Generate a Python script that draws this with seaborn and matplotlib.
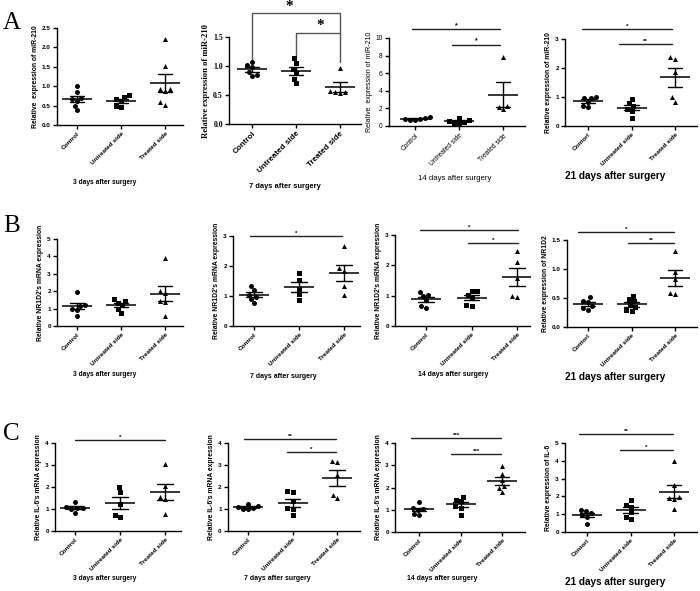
import numpy as np
import pandas as pd
import matplotlib
matplotlib.use("Agg")
import matplotlib.pyplot as plt
import seaborn as sns

sns.set_style("ticks")
plt.rcParams['font.family'] = ['Liberation Sans', 'DejaVu Sans']
for k in ['text.color', 'axes.labelcolor', 'xtick.color', 'ytick.color', 'axes.edgecolor']:
    plt.rcParams[k] = 'black'

groups = ["Control", "Untreated side", "Treated side"]
group_labels = ["Control", "Untreated side", "Treated side"]
group_labels_typo = ["Contorl", "Untreated side", "Treated side"]

# ---- Row A: miR-210 ----
a1_control = [1.00, 0.86, 0.70, 0.66, 0.62, 0.50, 0.38]
a1_untreated = [0.77, 0.72, 0.68, 0.62, 0.50, 0.47]
a1_treated = [2.22, 1.53, 0.93, 0.92, 0.88, 0.58, 0.52]

a2_control = [1.07, 1.02, 0.98, 0.90, 0.84, 0.83]
a2_untreated = [1.14, 1.06, 0.95, 0.88, 0.78, 0.70]
a2_treated = [0.97, 0.57, 0.55, 0.55, 0.54]

a3_control = [1.00, 0.95, 0.85, 0.75, 0.70, 0.70]
a3_untreated = [0.90, 0.70, 0.60, 0.40, 0.30, 0.30]
a3_treated = [7.80, 2.30, 2.20, 1.90]

a4_control = [1.01, 0.98, 0.95, 0.84, 0.68, 0.66]
a4_untreated = [0.94, 0.78, 0.68, 0.58, 0.52, 0.28]
a4_treated = [2.37, 2.30, 1.87, 0.99, 0.84]

# ---- Row B: NR1D2 ----
b1_control = [1.97, 1.22, 1.15, 1.00, 0.92, 0.60]
b1_untreated = [1.55, 1.45, 1.35, 1.20, 1.00, 0.75]
b1_treated = [3.89, 2.00, 1.90, 1.42, 1.38, 0.60]

b2_control = [1.33, 1.20, 1.05, 0.97, 0.90, 0.76]
b2_untreated = [1.77, 1.55, 1.25, 1.06, 0.87]
b2_treated = [2.66, 1.92, 1.85, 1.35, 1.03]

b3_control = [1.13, 1.02, 1.00, 0.86, 0.66, 0.60]
b3_untreated = [1.16, 1.15, 1.02, 0.91, 0.69, 0.66]
b3_treated = [2.47, 2.10, 1.58, 1.00, 0.97]

b4_control = [0.51, 0.45, 0.43, 0.36, 0.33, 0.30]
b4_untreated = [0.53, 0.48, 0.44, 0.38, 0.34, 0.29, 0.27]
b4_treated = [1.31, 0.94, 0.82, 0.58, 0.57]

# ---- Row C: IL-6 ----
c1_control = [1.32, 1.08, 1.06, 1.04, 1.00, 0.84]
c1_untreated = [2.00, 1.78, 1.22, 0.73, 0.62]
c1_treated = [3.06, 2.05, 1.55, 1.45, 0.77]

c2_control = [1.22, 1.15, 1.10, 1.05, 1.02, 0.99]
c2_untreated = [1.80, 1.78, 1.37, 1.05, 1.00, 0.73]
c2_treated = [3.20, 3.14, 2.55, 1.64, 1.52]

c3_control = [1.36, 1.10, 1.05, 0.98, 0.83, 0.76]
c3_untreated = [1.58, 1.46, 1.38, 1.16, 1.10, 0.75]
c3_treated = [2.97, 2.62, 2.34, 2.07, 1.97, 1.78]

c4_control = [1.26, 1.17, 1.04, 0.95, 0.85, 0.43]
c4_untreated = [1.79, 1.51, 1.42, 1.13, 0.85, 0.75]
c4_treated = [4.00, 2.62, 1.95, 1.92, 1.88, 1.28]

W, H = 700, 591
fig = plt.figure(figsize=(7, 5.91), dpi=100)

SANS = ['Liberation Sans', 'DejaVu Sans']
SERIF = ['Liberation Serif', 'DejaVu Serif']


def draw_panel(box, data, yticks, yfmt, labels, ylabel, title, title_xy,
               title_size=4.8, title_weight='bold', weight='bold',
               tick_family=SANS, tick_size=4.6, cat_size=4.6,
               ylabel_family=SANS, ylabel_size=4.9, sig=(), star_size=5,
               sig_color='#222222'):
    left, right, y_top, y_zero, c0, sp = box
    ax = fig.add_axes([left / W, 1 - y_zero / H, (right - left) / W, (y_zero - y_top) / H])
    ctrl, untr, trt = data
    df = pd.DataFrame({
        'group': [groups[0]] * len(ctrl) + [groups[1]] * len(untr) + [groups[2]] * len(trt),
        'value': list(ctrl) + list(untr) + list(trt),
    })
    for g, m in zip(groups, ['o', 's', '^']):
        sub = df[df['group'] == g]
        sns.swarmplot(data=sub, x='group', y='value', order=groups, marker=m,
                      color='black', size=3.6, ax=ax, zorder=3, warn_thresh=1.0)
    sns.pointplot(data=df, x='group', y='value', order=groups, errorbar='se',
                  capsize=0.34, color='black', marker='_', markersize=22,
                  markeredgewidth=1.1, linewidth=1.0, linestyle='none',
                  err_kws={'linewidth': 1.0}, ax=ax)
    ax.set_xlim((left - c0) / sp, (right - c0) / sp)
    ax.set_ylim(0, yticks[-1])
    ax.set_yticks(yticks)
    ax.set_yticklabels([yfmt.format(t) for t in yticks], family=tick_family,
                       fontsize=tick_size, fontweight=weight)
    ax.set_xticks(range(3))
    ax.set_xticklabels(labels, rotation=45, ha='right', rotation_mode='anchor',
                       fontsize=cat_size, fontweight=weight, family=SANS)
    ax.set_xlabel('')
    ax.set_ylabel(ylabel, family=ylabel_family, fontsize=ylabel_size,
                  fontweight=weight, labelpad=2)
    for s in ['top', 'right']:
        ax.spines[s].set_visible(False)
    for s in ['left', 'bottom']:
        ax.spines[s].set_linewidth(1.0)
        ax.spines[s].set_color('black')
    ax.tick_params(axis='both', length=3, width=1.0, pad=1.5, direction='out',
                   colors='black')
    for item in sig:
        x0, x1, y, star = item[:4]
        ax.plot([x0, x1], [y, y], color=sig_color, lw=1.0, clip_on=False)
        ax.annotate(star, xy=((x0 + x1) / 2, y), xytext=(0, 0.3),
                    textcoords='offset points', ha='center', va='bottom',
                    fontsize=star_size, fontweight='bold', annotation_clip=False)
    fig.text(title_xy[0] / W, 1 - title_xy[1] / H, title, ha='center', va='center',
             fontsize=title_size, fontweight=title_weight, family=SANS)
    return ax


# Row A
draw_panel((57, 183, 28, 125, 77, 44), (a1_control, a1_untreated, a1_treated),
           [0, 0.5, 1.0, 1.5, 2.0, 2.5], "{:.1f}", group_labels,
           "Relative  expression of miR-210", "3 days after surgery", (105, 183))

ax2 = draw_panel((229, 361, 37, 124, 252, 44), (a2_control, a2_untreated, a2_treated),
                 [0, 0.5, 1.0, 1.5], "{:.1f}", group_labels,
                 "Relative expression of miR-210", "7 days after surgery", (285, 186),
                 title_size=5.4, tick_family=SERIF, tick_size=5.6, cat_size=5.8,
                 ylabel_family=SERIF, ylabel_size=6.2)
br = '#555555'
ax2.plot([0, 0, 2, 2], [1.09, 1.91, 1.91, 1.07], color=br, lw=1.0, clip_on=False)
ax2.plot([1, 1, 2], [1.17, 1.57, 1.57], color=br, lw=1.0, clip_on=False)
ax2.annotate('*', xy=(0.85, 1.91), xytext=(0, 0.5), textcoords='offset points',
             ha='center', va='bottom', fontsize=11, fontweight='bold',
             family=SERIF, annotation_clip=False)
ax2.annotate('*', xy=(1.55, 1.57), xytext=(0, 0.5), textcoords='offset points',
             ha='center', va='bottom', fontsize=11, fontweight='bold',
             family=SERIF, annotation_clip=False)

draw_panel((389, 525, 38, 126, 415, 44), (a3_control, a3_untreated, a3_treated),
           [0, 2, 4, 6, 8, 10], "{:d}", group_labels,
           "Relative  expression of miR-210", "14 days after surgery", (455, 178),
           title_size=5.6, title_weight='normal', weight='normal',
           tick_size=4.8, cat_size=4.8, ylabel_size=5.0,
           sig=[(-0.07, 1.93, 11.0, '*'), (0.84, 1.93, 9.2, '*')])

draw_panel((565, 697, 39, 126, 588, 43.5), (a4_control, a4_untreated, a4_treated),
           [0, 1, 2, 3], "{:d}", group_labels_typo,
           "Relative expression of miR-210", "21 days after surgery", (615, 176),
           title_size=7.2, sig=[(-0.14, 1.94, 3.34, '*'), (0.71, 1.94, 2.83, '**')],
           star_size=4.5)

# Row B
draw_panel((57, 183, 239, 326, 77, 44), (b1_control, b1_untreated, b1_treated),
           [0, 1, 2, 3, 4, 5], "{:d}", group_labels,
           "Relative NR1D2's mRNA expression", "3 days after surgery", (105, 375))

draw_panel((233, 360, 236, 326, 254, 45), (b2_control, b2_untreated, b2_treated),
           [0, 1, 2, 3], "{:d}", group_labels,
           "Relative NR1D2's mRNA expression", "7 days after surgery", (283, 376),
           title_size=5.0, sig=[(-0.09, 1.96, 3.0, '*')], star_size=4.5)

draw_panel((395, 530, 235, 326, 426, 45.5), (b3_control, b3_untreated, b3_treated),
           [0, 1, 2, 3], "{:d}", group_labels,
           "Relative NR1D2's mRNA expression", "14 days after surgery", (453, 375),
           title_size=5.0, sig=[(-0.13, 2.02, 3.16, '*'), (0.92, 2.02, 2.74, '*')],
           star_size=4.5)

draw_panel((567, 697, 240, 327, 588, 43.5), (b4_control, b4_untreated, b4_treated),
           [0, 0.5, 1.0, 1.5], "{:.1f}", group_labels_typo,
           "Relative expression of NR1D2", "21 days after surgery", (615, 377),
           title_size=7.2, sig=[(-0.23, 1.98, 1.64, '*'), (0.92, 1.98, 1.45, '**')],
           star_size=4.5)

# Row C
draw_panel((55, 181, 443, 531, 75, 45), (c1_control, c1_untreated, c1_treated),
           [0, 1, 2, 3, 4], "{:d}", group_labels,
           "Relative IL-6's mRNA expression", "3 days after surgery", (105, 579),
           sig=[(0.0, 2.0, 4.14, '*')], star_size=4.5)

draw_panel((228, 360, 443, 531, 248, 44.5), (c2_control, c2_untreated, c2_treated),
           [0, 1, 2, 3, 4], "{:d}", group_labels,
           "Relative IL-6's mRNA expression", "7 days after surgery", (277, 579),
           title_size=5.0, sig=[(-0.09, 1.98, 4.18, '**'), (0.88, 1.98, 3.59, '*')],
           star_size=4.5)

draw_panel((395, 525, 443, 532, 419, 41.5), (c3_control, c3_untreated, c3_treated),
           [0, 1, 2, 3, 4], "{:d}", group_labels,
           "Relative IL-6's mRNA expression", "14 days after surgery", (442, 579),
           title_size=5.0, sig=[(-0.19, 1.98, 4.22, '***'), (0.77, 1.98, 3.5, '***')],
           star_size=4.5)

draw_panel((565, 697, 443, 532, 587, 43.5), (c4_control, c4_untreated, c4_treated),
           [0, 1, 2, 3, 4, 5], "{:d}", group_labels_typo,
           "Relative expression of IL-6", "21 days after surgery", (615, 582),
           title_size=7.2, sig=[(-0.18, 1.98, 5.5, '**'), (0.76, 1.98, 4.6, '*')],
           star_size=4.5)

# Panel letters
for letter, (x, y) in zip("ABC", [(3, 23), (3, 226), (3, 434)]):
    fig.text(x / W, 1 - y / H, letter, family=SERIF, fontsize=18,
             ha='left', va='center')

fig.savefig("out.png", dpi=100, facecolor='white')
